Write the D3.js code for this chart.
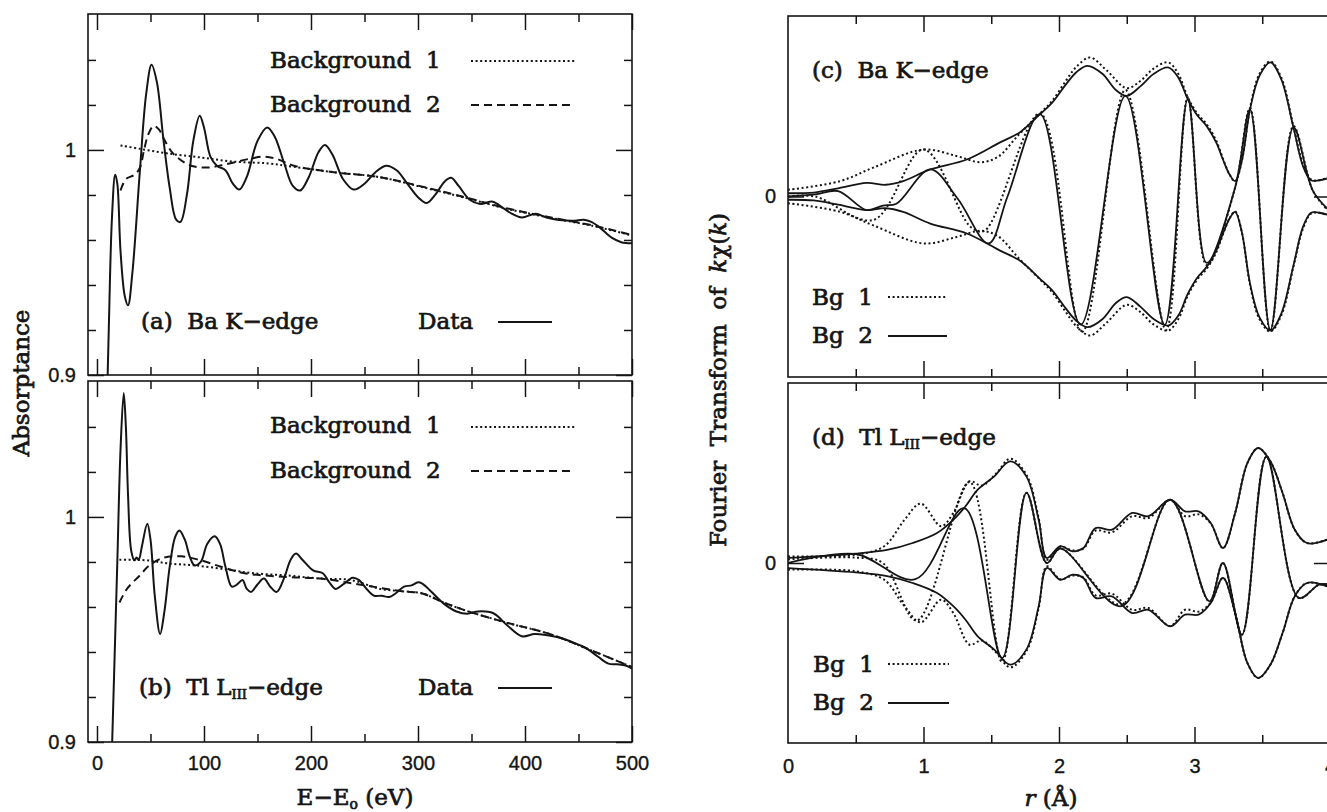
<!DOCTYPE html>
<html>
<head>
<meta charset="utf-8">
<script src="https://cdn.jsdelivr.net/npm/d3@7"></script>
<style>
  body { margin: 0; background: #fff; }
  svg text { font-family: "DejaVu Serif", serif; fill: #151515; stroke: #151515; stroke-width: 0.7px; }
  svg text.num { font-family: "Liberation Sans", Arial, sans-serif; font-size: 20px; stroke-width: 0.35px; }
</style>
</head>
<body>
<svg id="fig" width="1327" height="812"></svg>
<script>
// ---- left panels: absorptance vs E-Eo (eV), [E, A] pairs
const baData = [[9,0.88],[11,0.92],[14,0.97],[17,0.989],[19,0.985],[22,0.955],[26,0.935],[29,0.931],[33,0.945],
  [40,0.99],[46,1.025],[51,1.0378],[56,1.03],[62,1.005],[68,0.983],[74,0.969],[78,0.968],[84,0.98],[90,1.004],
  [96,1.0152],[100,1.01],[106,0.997],[112,0.993],[120,0.991],[127,0.985],[133,0.9824],[140,0.988],[150,1.004],
  [159,1.010],[166,1.006],[175,0.994],[183,0.984],[190,0.982],[198,0.988],[207,0.999],[213,1.0022],[220,0.998],
  [230,0.987],[240,0.9824],[250,0.985],[260,0.990],[270,0.993],[280,0.991],[290,0.985],[300,0.979],[308,0.9764],
  [316,0.980],[325,0.986],[331,0.9876],[338,0.984],[348,0.978],[358,0.976],[370,0.977],[380,0.974],[388,0.9716],
  [397,0.970],[410,0.9716],[420,0.970],[430,0.969],[445,0.9685],[455,0.969],[462,0.968],[470,0.9655],[481,0.961],
  [490,0.959],[500,0.9585]];
const baBg1 = [[22,1.002],[40,1.0005],[65,0.9985],[96,0.9967],[128,0.9948],[160,0.994],[184,0.9925],[223,0.990],
  [263,0.988],[303,0.9836],[342,0.979],[382,0.974],[422,0.970],[462,0.9664],[500,0.962]];
const baBg2 = [[22,0.982],[27,0.987],[35,0.989],[40,0.992],[44,1.0],[48,1.007],[53,1.0107],[58,1.009],[63,1.0045],
  [70,0.999],[77,0.996],[85,0.9935],[92,0.9925],[104,0.9922],[120,0.9936],[144,0.9962],[156,0.997],[168,0.996],
  [184,0.993],[223,0.990],[263,0.988],[303,0.9838],[342,0.9792],[382,0.9742],[422,0.9702],[462,0.9666],[500,0.9622]];

const tlData = [[13,0.88],[16,0.93],[19,0.98],[22,1.03],[25,1.0551],[27,1.04],[29,1.01],[32,0.985],[35,0.9807],
  [37,0.982],[39,0.981],[42,0.987],[47,0.997],[50,0.99],[54,0.965],[59,0.948],[63,0.958],[68,0.978],[73,0.991],
  [77,0.994],[82,0.99],[87,0.982],[91,0.9785],[97,0.980],[103,0.988],[110,0.9914],[115,0.988],[120,0.978],
  [126,0.969],[131,0.970],[136,0.972],[140,0.968],[144,0.9667],[150,0.970],[156,0.9726],[162,0.969],[168,0.9667],
  [175,0.973],[181,0.981],[186,0.9837],[192,0.981],[202,0.9763],[211,0.975],[217,0.971],[223,0.968],[230,0.970],
  [239,0.973],[245,0.9719],[252,0.968],[259,0.965],[266,0.965],[273,0.9644],[279,0.966],[287,0.969],[294,0.9696],
  [300,0.971],[304,0.9704],[312,0.967],[324,0.9615],[336,0.958],[346,0.957],[356,0.958],[370,0.9573],[383,0.952],
  [397,0.947],[409,0.948],[421,0.9474],[435,0.946],[446,0.944],[456,0.942],[468,0.938],[478,0.9348],[486,0.9345],
  [494,0.934],[500,0.9326]];
const tlBg1 = [[21,0.981],[47,0.9807],[67,0.9793],[91,0.9785],[122,0.9766],[146,0.975],[178,0.974],[209,0.9726],
  [237,0.972],[265,0.968],[285,0.967],[304,0.966],[324,0.962],[344,0.9585],[383,0.953],[423,0.948],[462,0.9407],[500,0.9333]];
const tlBg2 = [[21,0.962],[28,0.968],[40,0.974],[49,0.9785],[63,0.982],[79,0.9825],[95,0.981],[115,0.978],[138,0.975],
  [178,0.9733],[209,0.9726],[245,0.970],[285,0.967],[304,0.966],[324,0.962],[344,0.9585],[383,0.953],[423,0.948],
  [462,0.9407],[500,0.9333]];

// ---- right panels: FT of k*chi(k), [r, value] pairs (magnitude envelope and real part)
const baEnv1 = [[0,0.037],[0.384,0.085],[0.63,0.16],[1.0,0.26],[1.245,0.224],[1.42,0.19],[1.55,0.22],[1.7,0.34],
  [1.86,0.46],[1.95,0.53],[2.05,0.64],[2.13,0.72],[2.23,0.77],[2.35,0.70],[2.5,0.60],[2.6,0.64],[2.7,0.71],
  [2.805,0.743],[2.88,0.68],[2.95,0.55],[3.02,0.46],[3.09,0.40],[3.16,0.31],[3.21,0.21],[3.26,0.12],[3.30,0.083],
  [3.35,0.2],[3.41,0.49],[3.48,0.68],[3.56,0.748],[3.64,0.66],[3.73,0.39],[3.80,0.18],[3.86,0.095],[3.92,0.09],[4.0,0.11]];
const baEnv2 = [[0,0.018],[0.19,0.022],[0.37,0.045],[0.58,0.075],[0.72,0.065],[0.85,0.085],[1.05,0.15],[1.32,0.205],
  [1.565,0.30],[1.71,0.355],[1.86,0.456],[1.95,0.52],[2.05,0.62],[2.13,0.69],[2.21,0.724],[2.32,0.68],[2.42,0.59],
  [2.50,0.557],[2.6,0.61],[2.7,0.68],[2.805,0.715],[2.88,0.66],[2.95,0.54],[3.02,0.45],[3.09,0.39],[3.16,0.30],
  [3.21,0.205],[3.26,0.12],[3.30,0.085],[3.35,0.2],[3.41,0.483],[3.48,0.67],[3.56,0.743],[3.64,0.65],[3.73,0.383],
  [3.80,0.17],[3.86,0.09],[3.92,0.09],[4.0,0.105]];
const baRe1 = [[0,0.0],[0.2,0.0],[0.63,-0.13],[1.0,0.26],[1.35,-0.17],[1.45,-0.19],[1.86,0.46],[2.17,-0.75],[2.49,0.59],
  [2.79,-0.74],[2.95,0.55],[3.09,-0.38],[3.30,0.05],[3.41,0.49],[3.56,-0.745],[3.73,0.39],[3.875,0.03],[4.0,-0.09]];
const baRe2 = [[0,0.0],[0.2,0.012],[0.37,0.03],[0.58,-0.075],[0.7,-0.05],[0.8,-0.04],[1.05,0.15],[1.25,-0.01],
  [1.48,-0.26],[1.62,0.0],[1.86,0.456],[2.16,-0.71],[2.49,0.557],[2.78,-0.711],[2.95,0.539],[3.09,-0.368],
  [3.30,0.05],[3.41,0.483],[3.56,-0.739],[3.73,0.383],[3.875,0.03],[4.0,-0.08]];

const tlEnv1 = [[0,0.037],[0.5,0.046],[0.71,0.093],[0.86,0.24],[0.98,0.33],[1.13,0.204],[1.22,0.278],[1.34,0.454],
  [1.43,0.43],[1.54,0.50],[1.64,0.58],[1.76,0.49],[1.85,0.25],[1.91,0.019],[2.01,0.09],[2.10,0.07],[2.18,0.08],
  [2.27,0.18],[2.39,0.17],[2.54,0.26],[2.66,0.25],[2.82,0.35],[2.93,0.26],[3.03,0.27],[3.12,0.22],[3.21,0.083],
  [3.30,0.278],[3.39,0.555],[3.47,0.639],[3.56,0.565],[3.65,0.389],[3.74,0.185],[3.83,0.111],[3.98,0.13]];
const tlEnv2 = [[0,0.028],[0.5,0.052],[0.74,0.074],[0.92,0.111],[1.10,0.167],[1.22,0.24],[1.31,0.315],[1.40,0.407],
  [1.52,0.48],[1.64,0.565],[1.76,0.48],[1.85,0.24],[1.91,0.028],[2.01,0.093],[2.10,0.065],[2.18,0.083],[2.27,0.194],
  [2.39,0.185],[2.54,0.278],[2.66,0.26],[2.82,0.352],[2.93,0.287],[3.03,0.287],[3.12,0.222],[3.21,0.083],[3.30,0.278],
  [3.39,0.555],[3.47,0.639],[3.56,0.565],[3.65,0.389],[3.74,0.185],[3.83,0.111],[3.98,0.13]];
const tlRe1 = [[0,0.02],[0.5,0.03],[0.7,0.0],[0.95,-0.32],[1.34,0.45],[1.58,-0.55],[1.76,0.39],[1.91,0.0],[2.01,0.08],
  [2.46,-0.23],[2.82,0.35],[3.11,-0.213],[3.21,0.0],[3.35,-0.398],[3.53,0.59],[3.77,-0.194],[3.92,-0.12],[4.0,-0.12]];
const tlRe2 = [[0,0.0],[0.5,0.05],[0.94,-0.09],[1.30,0.305],[1.58,-0.528],[1.76,0.39],[1.91,0.0],[2.01,0.08],
  [2.46,-0.24],[2.82,0.352],[3.11,-0.213],[3.21,0.0],[3.35,-0.398],[3.53,0.59],[3.77,-0.194],[3.92,-0.12],[4.0,-0.12]];

// ---- ticks
const eMajor = [0, 100, 200, 300, 400, 500];
const eMinor = [50, 150, 250, 350, 450];
const aMajor = [0.9, 1.0];
const aMinor = [0.92, 0.94, 0.96, 0.98, 1.02, 1.04];
const rMajor = [1, 2, 3, 4];
const rMinor = [0.5, 1.5, 2.5, 3.5];
const rLabels = [0, 1, 2, 3, 4];
const ftMajor = [0];

const ink = '#151515';
const svg = d3.select('#fig');
const defs = svg.append('defs');

const xE = d3.scaleLinear().domain([-8.4, 500]).range([88, 632]);
const yA = d3.scaleLinear().domain([0.9, 1.0604]).range([375, 14]);
const yB = d3.scaleLinear().domain([0.9, 1.0604]).range([742, 381]);
const xR = d3.scaleLinear().domain([0, 4]).range([788, 1330]);
const yC = d3.scaleLinear().domain([-1, 1]).range([377, 16]);
const yD = d3.scaleLinear().domain([-1, 1]).range([743, 383]);

function panel(id, x, y, xt, yt) {
  const [xa, xb] = x.range();
  const [yb, ya] = y.range();
  defs.append('clipPath').attr('id', id)
    .append('rect').attr('x', xa).attr('y', ya).attr('width', xb - xa).attr('height', yb - ya);
  const g = svg.append('g');

  const ticks = (axis, scale, vals, len, tr) => g.append('g')
      .attr('transform', tr)
      .call(axis(scale).tickValues(vals).tickSize(-len).tickSizeOuter(0).tickFormat(''))
      .call(s => s.select('.domain').remove())
      .call(s => s.selectAll('line').attr('stroke', ink).attr('stroke-width', 1.5));

  [[xt[0], 16], [xt[1], 8]].forEach(([v, len]) => {
    ticks(d3.axisBottom, x, v, len, `translate(0,${yb})`);
    ticks(d3.axisTop, x, v, len, `translate(0,${ya})`);
  });
  [[yt[0], 16], [yt[1], 8]].forEach(([v, len]) => {
    ticks(d3.axisLeft, y, v, len, `translate(${xa},0)`);
    ticks(d3.axisRight, y, v, len, `translate(${xb},0)`);
  });

  g.append('rect')
    .attr('x', xa).attr('y', ya).attr('width', xb - xa).attr('height', yb - ya)
    .attr('fill', 'none').attr('stroke', ink).attr('stroke-width', 1.6);

  const plot = g.append('g').attr('clip-path', `url(#${id})`);
  const line = d3.line().x(d => x(d[0])).y(d => y(d[1])).curve(d3.curveCatmullRom);
  plot.curve = (data, dash, w) => plot.append('path')
      .datum(data)
      .attr('d', line)
      .attr('fill', 'none')
      .attr('stroke', ink)
      .attr('stroke-width', w || 1.8)
      .attr('stroke-linejoin', 'round')
      .attr('stroke-dasharray', dash || null);
  return plot;
}

const DOT = '2,2.6';
const DASH = '8,5';

const pa = panel('ca', xE, yA, [eMajor, eMinor], [aMajor, aMinor]);
pa.curve(baBg1, DOT, 2);
pa.curve(baBg2, DASH, 2);
pa.curve(baData, null, 2);

const pb = panel('cb', xE, yB, [eMajor, eMinor], [aMajor, aMinor]);
pb.curve(tlBg1, DOT, 2);
pb.curve(tlBg2, DASH, 2);
pb.curve(tlData, null, 2);

const neg = arr => arr.map(([r, v]) => [r, -v]);

const pc = panel('cc', xR, yC, [rMajor, rMinor], [ftMajor, []]);
[baEnv1, neg(baEnv1), baRe1].forEach(d => pc.curve(d, DOT, 2));
[baEnv2, neg(baEnv2), baRe2].forEach(d => pc.curve(d, null, 1.8));

const pd = panel('cd', xR, yD, [rMajor, rMinor], [ftMajor, []]);
[tlEnv1, neg(tlEnv1), tlRe1].forEach(d => pd.curve(d, DOT, 2));
[tlEnv2, neg(tlEnv2), tlRe2].forEach(d => pd.curve(d, null, 1.8));

// ---- numeric tick labels
const numStyle = s => s.call(g => g.select('.domain').remove())
  .call(g => g.selectAll('text').attr('class', 'num'));
const fmt = d3.format('~g');

svg.append('g').attr('transform', 'translate(88,0)')
  .call(d3.axisLeft(yA).tickValues(aMajor).tickSize(0).tickPadding(12).tickFormat(fmt))
  .call(numStyle);
svg.append('g').attr('transform', 'translate(88,0)')
  .call(d3.axisLeft(yB).tickValues(aMajor).tickSize(0).tickPadding(12).tickFormat(fmt))
  .call(numStyle);
svg.append('g').attr('transform', 'translate(0,742)')
  .call(d3.axisBottom(xE).tickValues(eMajor).tickSize(0).tickPadding(14).tickFormat(fmt))
  .call(numStyle);
svg.append('g').attr('transform', 'translate(788,0)')
  .call(d3.axisLeft(yC).tickValues(ftMajor).tickSize(0).tickPadding(12).tickFormat(fmt))
  .call(numStyle);
svg.append('g').attr('transform', 'translate(788,0)')
  .call(d3.axisLeft(yD).tickValues(ftMajor).tickSize(0).tickPadding(12).tickFormat(fmt))
  .call(numStyle);
svg.append('g').attr('transform', 'translate(0,743)')
  .call(d3.axisBottom(xR).tickValues(rLabels).tickSize(0).tickPadding(16).tickFormat(fmt))
  .call(numStyle);

// ---- text helpers
const FS = 23;
function label(x, y, parts, opts = {}) {
  const t = svg.append('text').attr('x', x).attr('y', y)
    .attr('font-size', opts.size || FS)
    .attr('text-anchor', opts.anchor || 'start');
  if (opts.rotate) t.attr('transform', `rotate(-90,${x},${y})`);
  parts.forEach(p => {
    if (typeof p === 'string') { t.append('tspan').text(p); return; }
    const s = t.append('tspan').text(p.t);
    if (p.size) s.attr('font-size', p.size);
    if (p.dy) s.attr('dy', p.dy);
    if (p.italic) s.attr('font-style', 'italic');
  });
  return t;
}
function sample(x1, x2, y, dash) {
  svg.append('line').attr('x1', x1).attr('x2', x2).attr('y1', y).attr('y2', y)
    .attr('stroke', ink).attr('stroke-width', 2).attr('stroke-dasharray', dash || null);
}
const sp2 = '\u00a0\u00a0';

// panel (a)
label(270, 68, ['Background' + sp2 + '1']);
sample(471, 575, 61, DOT);
label(270, 112, ['Background' + sp2 + '2']);
sample(471, 575, 105, DASH);
label(141, 329, ['(a)' + sp2 + 'Ba K\u2212edge']);
label(418, 329, ['Data']);
sample(498, 552, 322);

// panel (b)
label(270, 433, ['Background' + sp2 + '1']);
sample(471, 575, 427, DOT);
label(270, 478, ['Background' + sp2 + '2']);
sample(471, 575, 471, DASH);
label(139, 695, ['(b)' + sp2 + 'Tl L', {t: 'III', size: 13, dy: 4}, {t: '\u2212edge', dy: -4}]);
label(418, 695, ['Data']);
sample(498, 552, 688);

// panel (c)
label(812, 78, ['(c)' + sp2 + 'Ba K\u2212edge']);
label(812, 305, ['Bg' + sp2 + '1']);
sample(888, 947, 297, DOT);
label(812, 343, ['Bg' + sp2 + '2']);
sample(888, 947, 336);

// panel (d)
label(812, 445, ['(d)' + sp2 + 'Tl L', {t: 'III', size: 13, dy: 4}, {t: '\u2212edge', dy: -4}]);
label(813, 672, ['Bg' + sp2 + '1']);
sample(888, 949, 664, DOT);
label(813, 710, ['Bg' + sp2 + '2']);
sample(888, 949, 703);

// axis titles
label(29, 383, ['Absorptance'], {anchor: 'middle', rotate: true});
label(726, 380, ['Fourier' + sp2 + 'Transform' + sp2 + 'of' + sp2, {t: 'k', italic: true}, '\u03c7(', {t: 'k', italic: true}, ')'],
  {anchor: 'middle', rotate: true});
label(355, 805, ['E\u2212E', {t: 'o', size: 14, dy: 4}, {t: '\u00a0(eV)', dy: -4}], {anchor: 'middle'});
label(1051, 806, [{t: 'r', italic: true}, '\u00a0(\u00c5)'], {anchor: 'middle'});
</script>
</body>
</html>
